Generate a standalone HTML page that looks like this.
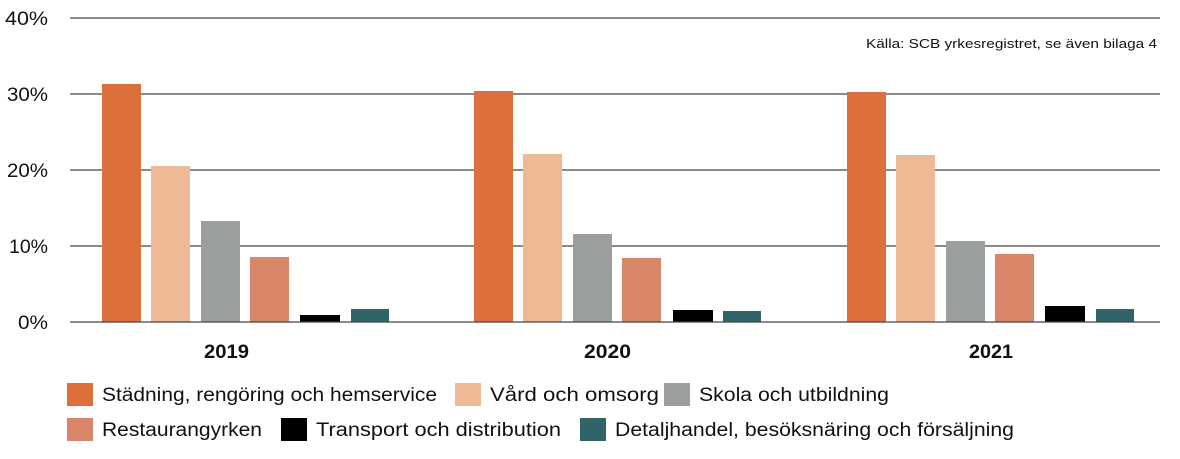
<!DOCTYPE html>
<html><head><style>
body{margin:0;background:#fff;}
svg text{font-family:"Liberation Sans",sans-serif;fill:#111;}
</style></head><body>
<svg width="1180" height="454" xmlns="http://www.w3.org/2000/svg">
<g stroke="#444" stroke-width="1.3">
<line x1="70" y1="18" x2="1160" y2="18"/>
<line x1="70" y1="94" x2="1160" y2="94"/>
<line x1="70" y1="170" x2="1160" y2="170"/>
<line x1="70" y1="246" x2="1160" y2="246"/>
</g>
<g font-size="19">
<text x="5" y="25" textLength="43" lengthAdjust="spacingAndGlyphs">40%</text>
<text x="7" y="101" textLength="41" lengthAdjust="spacingAndGlyphs">30%</text>
<text x="7" y="177" textLength="41" lengthAdjust="spacingAndGlyphs">20%</text>
<text x="9" y="253" textLength="39" lengthAdjust="spacingAndGlyphs">10%</text>
<text x="18" y="329" textLength="30" lengthAdjust="spacingAndGlyphs">0%</text>
</g>
<text x="866" y="48" font-size="13" textLength="291" lengthAdjust="spacingAndGlyphs">Källa: SCB yrkesregistret, se även bilaga 4</text>
<g>
<rect x="102" y="84" width="39" height="238" fill="#DD6F3B"/>
<rect x="151" y="166" width="39" height="156" fill="#EEBA96"/>
<rect x="201" y="221" width="39" height="101" fill="#9CA09C"/>
<rect x="250" y="257" width="39" height="65" fill="#D98668"/>
<rect x="300" y="315" width="40" height="7" fill="#000"/>
<rect x="351" y="309" width="38" height="13" fill="#2F6469"/>
<rect x="474" y="91" width="39" height="231" fill="#DD6F3B"/>
<rect x="523" y="154" width="39" height="168" fill="#EEBA96"/>
<rect x="573" y="234" width="39" height="88" fill="#9CA09C"/>
<rect x="622" y="258" width="39" height="64" fill="#D98668"/>
<rect x="673" y="310" width="40" height="12" fill="#000"/>
<rect x="723" y="311" width="38" height="11" fill="#2F6469"/>
<rect x="847" y="92" width="39" height="230" fill="#DD6F3B"/>
<rect x="896" y="155" width="39" height="167" fill="#EEBA96"/>
<rect x="946" y="241" width="39" height="81" fill="#9CA09C"/>
<rect x="995" y="254" width="39" height="68" fill="#D98668"/>
<rect x="1045" y="306" width="40" height="16" fill="#000"/>
<rect x="1096" y="309" width="38" height="13" fill="#2F6469"/>
</g>
<line x1="70" y1="322" x2="1160" y2="322" stroke="#444" stroke-width="1.3"/>
<g font-size="19" font-weight="bold">
<text x="204" y="358" textLength="45" lengthAdjust="spacingAndGlyphs">2019</text>
<text x="584" y="358" textLength="47" lengthAdjust="spacingAndGlyphs">2020</text>
<text x="969" y="358" textLength="44" lengthAdjust="spacingAndGlyphs">2021</text>
</g>
<g font-size="19">
<rect x="67" y="383" width="26" height="23" fill="#DD6F3B"/>
<text x="102" y="401" textLength="335" lengthAdjust="spacingAndGlyphs">Städning, rengöring och hemservice</text>
<rect x="455" y="383" width="26" height="23" fill="#EEBA96"/>
<text x="490" y="401" textLength="169" lengthAdjust="spacingAndGlyphs">Vård och omsorg</text>
<rect x="664" y="383" width="26" height="23" fill="#9CA09C"/>
<text x="699" y="401" textLength="190" lengthAdjust="spacingAndGlyphs">Skola och utbildning</text>
<rect x="67" y="418" width="26" height="23" fill="#D98668"/>
<text x="102" y="436" textLength="160" lengthAdjust="spacingAndGlyphs">Restaurangyrken</text>
<rect x="281" y="418" width="26" height="23" fill="#000"/>
<text x="316" y="436" textLength="245" lengthAdjust="spacingAndGlyphs">Transport och distribution</text>
<rect x="580" y="418" width="26" height="23" fill="#2F6469"/>
<text x="615" y="436" textLength="399" lengthAdjust="spacingAndGlyphs">Detaljhandel, besöksnäring och försäljning</text>
</g>
</svg>
</body></html>
